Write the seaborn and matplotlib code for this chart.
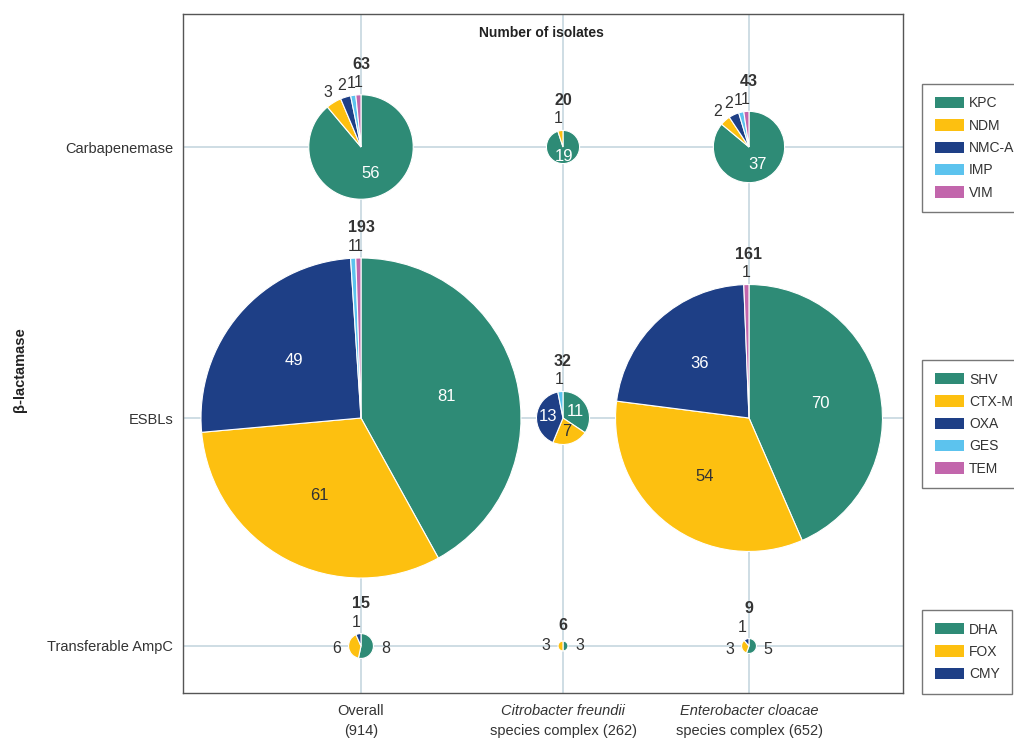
import numpy as np
import seaborn as sns
import matplotlib.pyplot as plt
from matplotlib.patches import Patch

# data
rows = ["Carbapenemase", "ESBLs", "Transferable AmpC"]
groups = ["Overall", "Citrobacter freundii", "Enterobacter cloacae"]
group_sub = ["(914)", "species complex (262)", "species complex (652)"]

carb_types = ["KPC", "NDM", "NMC-A", "IMP", "VIM"]
carb_overall = [56, 3, 2, 1, 1]
carb_citro = [19, 1, 0, 0, 0]
carb_entero = [37, 2, 2, 1, 1]

esbl_types = ["SHV", "CTX-M", "OXA", "GES", "TEM"]
esbl_overall = [81, 61, 49, 1, 1]
esbl_citro = [11, 7, 13, 1, 0]
esbl_entero = [70, 54, 36, 0, 1]

ampc_types = ["DHA", "FOX", "CMY"]
ampc_overall = [8, 6, 1]
ampc_citro = [3, 3, 0]
ampc_entero = [5, 3, 1]

colors = ["#2E8B76", "#FDC010", "#1E3F86", "#5CC3EE", "#C266AC"]
text_cols = ["white", "#333333", "white", "#333333", "#333333"]

sns.set_theme(style="white")
plt.rcParams['font.family'] = ['Liberation Sans', 'DejaVu Sans']

W, H = 1014, 740
fig = plt.figure(figsize=(W / 100, H / 100), dpi=100)
ax = fig.add_axes([183 / W, 1 - 693 / H, 720 / W, 679 / H])
ax.set_xlim(183, 903)
ax.set_ylim(H - 693, H - 14)

col_x = [361, 563, 749]
row_y = [H - 147, H - 418, H - 646]
scale = 160 / 193  # px per isolate

ax.set_xticks(col_x)
ax.set_yticks(row_y)
ax.set_xticklabels([])
ax.set_yticklabels(rows, fontsize=10.5, color="#333333")
ax.tick_params(axis='both', length=0, pad=7)
ax.grid(True, color="#C6D7DF", lw=1.2)
ax.set_axisbelow(True)
for s in ax.spines.values():
    s.set_color("#555555")
    s.set_linewidth(1)

data = [
    [carb_overall, carb_citro, carb_entero],
    [esbl_overall, esbl_citro, esbl_entero],
    [ampc_overall, ampc_citro, ampc_entero],
]

for i, row in enumerate(data):
    for j, vals in enumerate(row):
        cx, cy = col_x[j], row_y[i]
        total = sum(vals)
        r = total * scale
        keep = [k for k, v in enumerate(vals) if v > 0]
        v_keep = [vals[k] for k in keep]
        ax.pie(v_keep, colors=[colors[k] for k in keep], center=(cx, cy), radius=r,
               startangle=90, counterclock=False, frame=True,
               wedgeprops=dict(edgecolor="white", linewidth=0.8))
        cum = 0
        top_label = False
        for k, v in zip(keep, v_keep):
            mid = (cum + v / 2) / total * 2 * np.pi
            cum += v
            dx, dy = np.sin(mid), np.cos(mid)
            if r > 14 and v / total > 0.1:
                ax.text(cx + dx * r * 0.55, cy + dy * r * 0.55, str(v), ha='center', va='center',
                        fontsize=12, color=text_cols[k])
            else:
                d = r + 12
                ax.text(cx + dx * d, cy + dy * d, str(v), ha='center', va='center',
                        fontsize=11.5, color="#333333")
                if dy > 0.7:
                    top_label = True
        off = 30 if top_label else 16
        ax.text(cx, cy + r + off, str(total), ha='center', va='center', fontsize=11.5,
                fontweight='bold', color="#333333")

ax.set_aspect('auto')
ax.set_xlim(183, 903)
ax.set_ylim(H - 693, H - 14)

ax.text(541, H - 33, "Number of isolates", ha='center', va='center', fontsize=10,
        fontweight='bold', color="#222222")

for j in range(3):
    style = 'normal' if j == 0 else 'italic'
    ax.text(col_x[j], H - 711, groups[j], ha='center', va='center',
            fontsize=10.5, style=style, color="#333333", clip_on=False)
    ax.text(col_x[j], H - 731, group_sub[j], ha='center', va='center',
            fontsize=10.5, color="#333333", clip_on=False)

fig.text(20 / W, 1 - 370 / H, "β-lactamase", rotation=90, ha='center', va='center',
         fontsize=10.5, fontweight='bold', color="#222222")

legends = [(carb_types, 84), (esbl_types, 360), (ampc_types, 610)]
for types, top in legends:
    handles = [Patch(facecolor=colors[k], edgecolor='none', label=t) for k, t in enumerate(types)]
    leg = fig.legend(handles=handles, loc='upper left', bbox_to_anchor=(922 / W, 1 - top / H),
                     borderaxespad=0, frameon=True, fancybox=False, fontsize=10,
                     handlelength=2.1, handleheight=0.85, labelspacing=0.6,
                     handletextpad=0.4, borderpad=0.9)
    leg.get_frame().set_edgecolor("#555555")
    leg.get_frame().set_linewidth(1)
    for t in leg.get_texts():
        t.set_color("#333333")

fig.savefig("out.png", dpi=100)
